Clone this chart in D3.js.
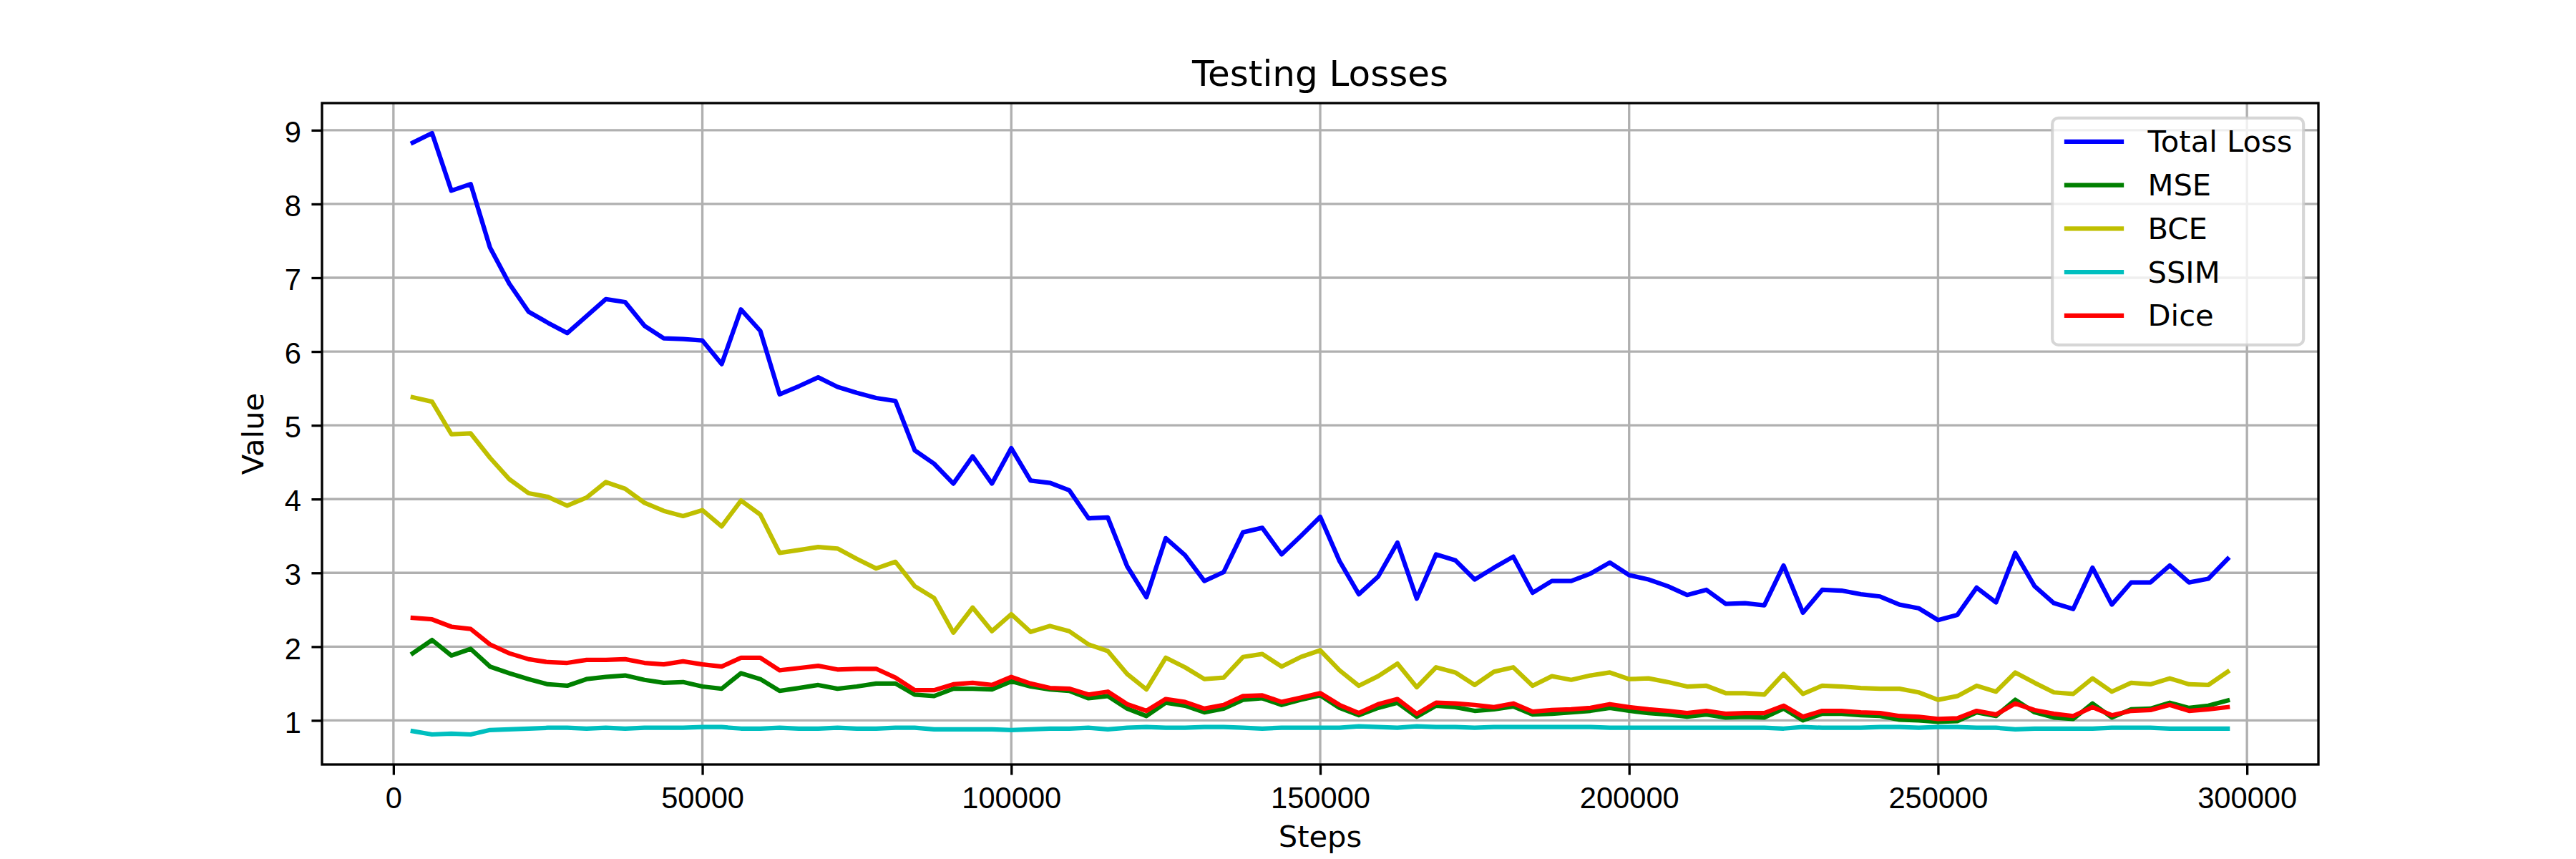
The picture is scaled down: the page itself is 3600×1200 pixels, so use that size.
<!DOCTYPE html>
<html>
<head>
<meta charset="utf-8">
<script src="https://cdn.jsdelivr.net/npm/d3@7"></script>
<style>
  body { margin: 0; background: white; }
  svg { display: block; }
</style>
</head>
<body>
<div id="chart"></div>
<script>
// evaluation steps (logged every 3125 steps)
var steps = [
  3125, 6250, 9375, 12500, 15625, 18750, 21875, 25000, 28125, 31250,
  34375, 37500, 40625, 43750, 46875, 50000, 53125, 56250, 59375, 62500,
  65625, 68750, 71875, 75000, 78125, 81250, 84375, 87500, 90625, 93750,
  96875, 100000, 103125, 106250, 109375, 112500, 115625, 118750, 121875, 125000,
  128125, 131250, 134375, 137500, 140625, 143750, 146875, 150000, 153125, 156250,
  159375, 162500, 165625, 168750, 171875, 175000, 178125, 181250, 184375, 187500,
  190625, 193750, 196875, 200000, 203125, 206250, 209375, 212500, 215625, 218750,
  221875, 225000, 228125, 231250, 234375, 237500, 240625, 243750, 246875, 250000,
  253125, 256250, 259375, 262500, 265625, 268750, 271875, 275000, 278125, 281250,
  284375, 287500, 290625, 293750, 296875
];

var totalLoss = [
  8.83, 8.96, 8.18, 8.27, 7.41, 6.92, 6.54, 6.39, 6.25, 6.48,
  6.71, 6.67, 6.35, 6.18, 6.17, 6.15, 5.83, 6.57, 6.28, 5.42,
  5.53, 5.65, 5.52, 5.44, 5.37, 5.33, 4.66, 4.48, 4.21, 4.58,
  4.21, 4.69, 4.25, 4.22, 4.12, 3.74, 3.75, 3.09, 2.67, 3.47,
  3.24, 2.89, 3.01, 3.55, 3.61, 3.25, 3.50, 3.76, 3.16, 2.71,
  2.95, 3.41, 2.65, 3.25, 3.17, 2.91, 3.07, 3.22, 2.73, 2.89,
  2.89, 2.99, 3.14, 2.97, 2.91, 2.82, 2.70, 2.77, 2.58, 2.59,
  2.56, 3.10, 2.46, 2.77, 2.76, 2.71, 2.68, 2.57, 2.52, 2.36,
  2.43, 2.80, 2.60, 3.27, 2.82, 2.59, 2.51, 3.07, 2.57, 2.87,
  2.87, 3.10, 2.87, 2.92, 3.19
];

var mse = [
  1.91, 2.09, 1.88, 1.97, 1.73, 1.64, 1.56, 1.49, 1.47, 1.56,
  1.59, 1.61, 1.55, 1.51, 1.52, 1.46, 1.43, 1.64, 1.56, 1.40,
  1.44, 1.48, 1.43, 1.46, 1.50, 1.50, 1.35, 1.33, 1.43, 1.43,
  1.42, 1.53, 1.46, 1.42, 1.40, 1.30, 1.33, 1.16, 1.06, 1.24,
  1.20, 1.11, 1.16, 1.28, 1.30, 1.21, 1.28, 1.34, 1.17, 1.07,
  1.17, 1.24, 1.05, 1.20, 1.18, 1.13, 1.15, 1.19, 1.08, 1.09,
  1.11, 1.13, 1.17, 1.13, 1.10, 1.08, 1.05, 1.08, 1.04, 1.05,
  1.04, 1.16, 1.00, 1.09, 1.09, 1.07, 1.06, 1.01, 1.00, 0.98,
  0.99, 1.11, 1.06, 1.28, 1.11, 1.04, 1.02, 1.23, 1.04, 1.15,
  1.16, 1.24, 1.17, 1.20, 1.27
];

var bce = [
  5.38, 5.32, 4.88, 4.89, 4.56, 4.27, 4.08, 4.03, 3.91, 4.02,
  4.23, 4.14, 3.95, 3.84, 3.77, 3.85, 3.63, 3.98, 3.79, 3.27,
  3.31, 3.35, 3.33, 3.19, 3.06, 3.15, 2.82, 2.66, 2.19, 2.53,
  2.21, 2.44, 2.20, 2.28, 2.21, 2.03, 1.94, 1.63, 1.42, 1.85,
  1.72, 1.56, 1.58, 1.86, 1.90, 1.73, 1.86, 1.95, 1.68, 1.47,
  1.60, 1.77, 1.45, 1.72, 1.65, 1.48, 1.66, 1.72, 1.47, 1.60,
  1.55, 1.61, 1.65, 1.56, 1.57, 1.52, 1.46, 1.47, 1.37, 1.37,
  1.35, 1.63, 1.36, 1.47, 1.46, 1.44, 1.43, 1.43, 1.38, 1.28,
  1.33, 1.47, 1.39, 1.65, 1.51, 1.38, 1.36, 1.57, 1.39, 1.51,
  1.49, 1.57, 1.49, 1.48, 1.66
];

var ssim = [
  0.855, 0.81, 0.82, 0.81, 0.87, 0.88, 0.89, 0.90, 0.90, 0.89,
  0.90, 0.89, 0.90, 0.90, 0.90, 0.91, 0.91, 0.89, 0.89, 0.90,
  0.89, 0.89, 0.90, 0.89, 0.89, 0.90, 0.90, 0.88, 0.88, 0.88,
  0.88, 0.87, 0.88, 0.89, 0.89, 0.90, 0.88, 0.90, 0.91, 0.90,
  0.90, 0.91, 0.91, 0.90, 0.89, 0.90, 0.90, 0.90, 0.90, 0.92,
  0.91, 0.90, 0.92, 0.91, 0.91, 0.90, 0.91, 0.91, 0.91, 0.91,
  0.91, 0.91, 0.90, 0.90, 0.90, 0.90, 0.90, 0.90, 0.90, 0.90,
  0.90, 0.89, 0.91, 0.90, 0.90, 0.90, 0.91, 0.91, 0.90, 0.91,
  0.91, 0.90, 0.90, 0.88, 0.89, 0.89, 0.89, 0.89, 0.90, 0.90,
  0.90, 0.89, 0.89, 0.89, 0.89
];

var dice = [
  2.39, 2.37, 2.27, 2.24, 2.03, 1.91, 1.83, 1.79, 1.78, 1.82,
  1.82, 1.83, 1.78, 1.76, 1.80, 1.76, 1.73, 1.85, 1.85, 1.68,
  1.71, 1.74, 1.69, 1.70, 1.70, 1.58, 1.41, 1.41, 1.49, 1.51,
  1.48, 1.59, 1.50, 1.44, 1.43, 1.35, 1.39, 1.22, 1.13, 1.29,
  1.25, 1.16, 1.21, 1.33, 1.34, 1.25, 1.31, 1.37, 1.21, 1.10,
  1.22, 1.29, 1.09, 1.24, 1.23, 1.21, 1.18, 1.23, 1.12, 1.14,
  1.15, 1.17, 1.22, 1.18, 1.15, 1.13, 1.10, 1.13, 1.09, 1.10,
  1.10, 1.20, 1.05, 1.13, 1.13, 1.11, 1.10, 1.06, 1.05, 1.02,
  1.03, 1.13, 1.08, 1.23, 1.14, 1.09, 1.06, 1.18, 1.07, 1.13,
  1.14, 1.21, 1.13, 1.15, 1.18
];

var seriesNames = ["Total Loss", "MSE", "BCE", "SSIM", "Dice"];
var seriesColors = ["#0000ff", "#008000", "#bfbf00", "#00bfbf", "#ff0000"];
var seriesValues = [totalLoss, mse, bce, ssim, dice];

var xTicks = [0, 50000, 100000, 150000, 200000, 250000, 300000];
var yTicks = [1, 2, 3, 4, 5, 6, 7, 8, 9];

// figure 12x4 in at 300 dpi, 1pt = 300/72 px
var width = 3600;
var height = 1200;
var pt = 300 / 72;
var fontSize = 10 * pt;
var margin = { left: 450, right: 360, top: 144, bottom: 132 };
var x0 = margin.left, x1 = width - margin.right;
var y0 = margin.top, y1 = height - margin.bottom;

// matplotlib style autoscale with 5% margins
function padded(lo, hi) {
  var d = (hi - lo) * 0.05;
  return [lo - d, hi + d];
}

var allValues = [].concat.apply([], seriesValues);

var x = d3.scaleLinear()
  .domain(padded(d3.min(steps), d3.max(steps)))
  .range([x0, x1]);

var y = d3.scaleLinear()
  .domain(padded(d3.min(allValues), d3.max(allValues)))
  .range([y1, y0]);

var svg = d3.select("#chart").append("svg")
  .attr("width", width)
  .attr("height", height)
  .style("font-family", "'DejaVu Sans', sans-serif");

svg.append("rect")
  .attr("width", width)
  .attr("height", height)
  .attr("fill", "white");

// grid
var grid = svg.append("g");

grid.selectAll("line.gx")
  .data(xTicks)
  .join("line")
  .attr("x1", d => x(d))
  .attr("x2", d => x(d))
  .attr("y1", y0)
  .attr("y2", y1)
  .attr("stroke", "#b0b0b0")
  .attr("stroke-width", 0.8 * pt);

grid.selectAll("line.gy")
  .data(yTicks)
  .join("line")
  .attr("x1", x0)
  .attr("x2", x1)
  .attr("y1", d => y(d))
  .attr("y2", d => y(d))
  .attr("stroke", "#b0b0b0")
  .attr("stroke-width", 0.8 * pt);

// lines
var line = d3.line()
  .x((d, i) => x(steps[i]))
  .y(d => y(d));

svg.append("g")
  .selectAll("path")
  .data(seriesValues)
  .join("path")
  .attr("d", d => line(d))
  .attr("fill", "none")
  .attr("stroke", (d, i) => seriesColors[i])
  .attr("stroke-width", 1.5 * pt)
  .attr("stroke-linejoin", "round")
  .attr("stroke-linecap", "square");

// axes
var tickLen = 3.5 * pt;

var xAxis = svg.append("g")
  .attr("transform", "translate(0," + y1 + ")")
  .call(d3.axisBottom(x).tickValues(xTicks).tickSize(tickLen).tickFormat(d3.format("d")));

xAxis.select(".domain").remove();
xAxis.selectAll(".tick line")
  .attr("stroke", "black")
  .attr("stroke-width", 0.8 * pt);
xAxis.selectAll(".tick text")
  .attr("y", tickLen + 3.5 * pt)
  .attr("dy", "0.76em")
  .attr("fill", "black")
  .style("font-size", fontSize + "px");

var yAxis = svg.append("g")
  .attr("transform", "translate(" + x0 + ",0)")
  .call(d3.axisLeft(y).tickValues(yTicks).tickSize(tickLen).tickFormat(d3.format("d")));

yAxis.select(".domain").remove();
yAxis.selectAll(".tick line")
  .attr("stroke", "black")
  .attr("stroke-width", 0.8 * pt);
yAxis.selectAll(".tick text")
  .attr("x", -(tickLen + 3.5 * pt))
  .attr("dy", "0.4em")
  .attr("fill", "black")
  .style("font-size", fontSize + "px");

// spines
svg.append("rect")
  .attr("x", x0)
  .attr("y", y0)
  .attr("width", x1 - x0)
  .attr("height", y1 - y0)
  .attr("fill", "none")
  .attr("stroke", "black")
  .attr("stroke-width", 0.8 * pt);

// labels and title
svg.append("text")
  .attr("x", (x0 + x1) / 2)
  .attr("y", 1183)
  .attr("text-anchor", "middle")
  .style("font-size", fontSize + "px")
  .text("Steps");

svg.append("text")
  .attr("transform", "translate(368," + ((y0 + y1) / 2) + ") rotate(-90)")
  .attr("text-anchor", "middle")
  .style("font-size", fontSize + "px")
  .text("Value");

svg.append("text")
  .attr("x", (x0 + x1) / 2)
  .attr("y", 120)
  .attr("text-anchor", "middle")
  .style("font-size", (12 * pt) + "px")
  .text("Testing Losses");

// legend, upper right
var legW = 351, legH = 317;
var legX = x1 - 0.5 * fontSize - legW;
var legY = y0 + 0.5 * fontSize;
var rowGap = 60.75;

var legend = svg.append("g");

legend.append("rect")
  .attr("x", legX)
  .attr("y", legY)
  .attr("width", legW)
  .attr("height", legH)
  .attr("rx", 0.2 * fontSize)
  .attr("fill", "white")
  .attr("fill-opacity", 0.8)
  .attr("stroke", "#cccccc")
  .attr("stroke-opacity", 0.8)
  .attr("stroke-width", 1.0 * pt);

var rows = legend.selectAll("g.row")
  .data(seriesNames)
  .join("g")
  .attr("transform", (d, i) => "translate(" + (legX + 0.4 * fontSize) + "," + (legY + 33 + i * rowGap) + ")");

rows.append("line")
  .attr("x1", 0)
  .attr("x2", 2 * fontSize)
  .attr("y1", 0)
  .attr("y2", 0)
  .attr("stroke", (d, i) => seriesColors[i])
  .attr("stroke-width", 1.5 * pt);

rows.append("text")
  .attr("x", 2.8 * fontSize)
  .attr("y", 14.5)
  .style("font-size", fontSize + "px")
  .text(d => d);
</script>
</body>
</html>
